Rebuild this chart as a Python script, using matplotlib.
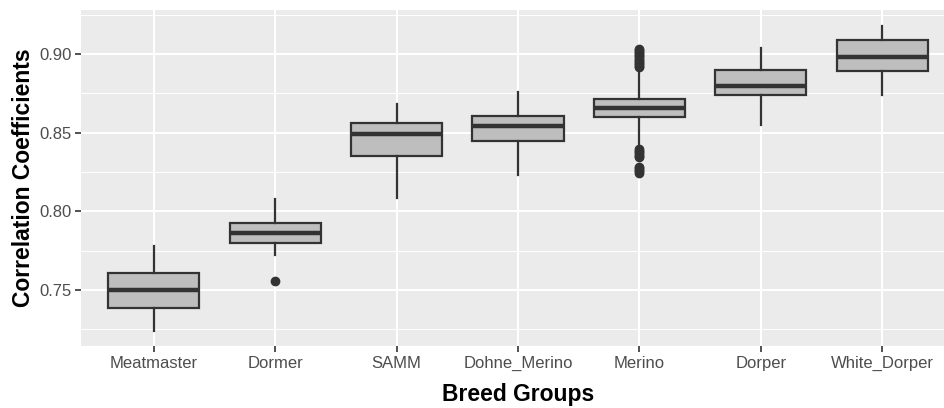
import numpy as np
import matplotlib
matplotlib.use('Agg')
import matplotlib.pyplot as plt

# dados
breeds = ['Meatmaster', 'Dormer', 'SAMM', 'Dohne_Merino', 'Merino', 'Dorper', 'White_Dorper']
wlo = [0.7242, 0.7723, 0.8087, 0.8231, 0.8430, 0.8549, 0.8739]
q1 = [0.7384, 0.7797, 0.8350, 0.8449, 0.8598, 0.8738, 0.8892]
med = [0.7500, 0.7865, 0.8490, 0.8540, 0.8657, 0.8797, 0.8983]
q3 = [0.7606, 0.7928, 0.8564, 0.8606, 0.8716, 0.8897, 0.9087]
whi = [0.7781, 0.8079, 0.8680, 0.8757, 0.8900, 0.9040, 0.9176]
outliers = [
    [],
    [0.7555],
    [],
    [],
    [0.8915, 0.8925, 0.8935, 0.8945, 0.8955, 0.8965, 0.8975, 0.8985, 0.8995,
     0.9005, 0.9015, 0.9025, 0.9035,
     0.8395, 0.8385, 0.8375, 0.8365, 0.8355, 0.8345,
     0.8285, 0.8275, 0.8265, 0.8255, 0.8245],
    [],
    [],
]

stats = []
for i in range(len(breeds)):
    stats.append({'whislo': wlo[i], 'q1': q1[i], 'med': med[i], 'q3': q3[i],
                  'whishi': whi[i], 'fliers': outliers[i], 'label': breeds[i]})

plt.rcParams['font.family'] = ['Liberation Sans', 'DejaVu Sans']

fig = plt.figure(figsize=(9.44, 4.08), dpi=100)
ax = fig.add_axes([81/944, 62/408, 874/944, 336/408])
ax.set_facecolor('#EBEBEB')

pos = np.arange(1, len(breeds) + 1)
ax.bxp(stats, positions=pos, widths=0.75, patch_artist=True, showcaps=False,
       boxprops=dict(facecolor='#BEBEBE', edgecolor='#333333', linewidth=1.6),
       medianprops=dict(color='#333333', linewidth=3.2),
       whiskerprops=dict(color='#333333', linewidth=1.6),
       flierprops=dict(marker='o', markerfacecolor='#333333', markeredgecolor='#333333',
                       markersize=6, linestyle='none'),
       zorder=3)

ax.set_xlim(0.4, len(breeds) + 0.6)
ax.set_ylim(0.7144, 0.928)
ax.set_yticks([0.75, 0.80, 0.85, 0.90])
ax.set_yticklabels(['0.75', '0.80', '0.85', '0.90'])
ax.set_yticks([0.725, 0.775, 0.825, 0.875, 0.925], minor=True)
ax.set_xticks(pos)
ax.set_xticklabels(breeds)

ax.grid(True, which='major', color='white', linewidth=1.5, zorder=0)
ax.grid(True, which='minor', axis='y', color='white', linewidth=0.7, zorder=0)
ax.set_axisbelow(True)
for s in ax.spines.values():
    s.set_visible(False)

ax.tick_params(axis='both', which='major', colors='#333333', length=4, width=1.2,
               labelsize=12, labelcolor='#4D4D4D', pad=3)
ax.tick_params(axis='y', which='minor', length=0)

ax.set_xlabel('Breed Groups', fontsize=16.5, fontweight='bold', labelpad=8.5)
ax.set_ylabel('Correlation Coefficients', fontsize=16.5, fontweight='bold', labelpad=3)

plt.savefig('out.png', dpi=100)
